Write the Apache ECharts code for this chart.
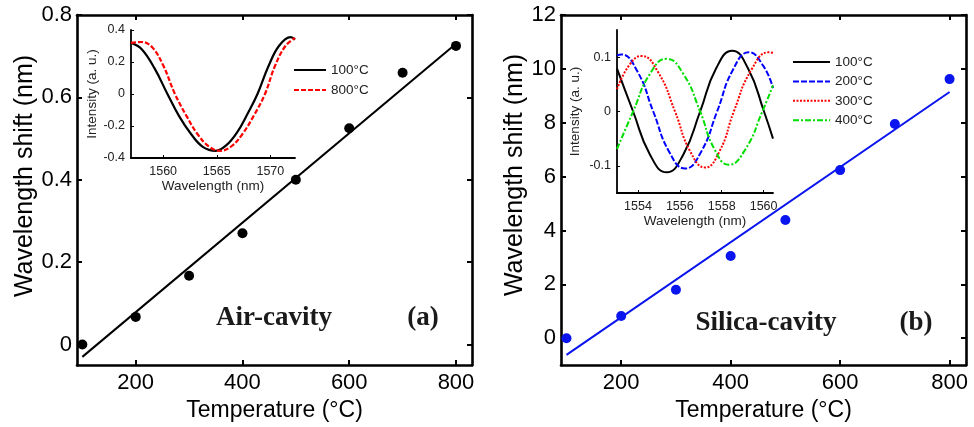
<!DOCTYPE html>
<html>
<head>
<meta charset="utf-8">
<script src="https://cdn.jsdelivr.net/npm/echarts@6/dist/echarts.min.js"></script>
<style>
  html, body { margin: 0; background: #fff; }
  #chart { width: 974px; height: 427px; }
</style>
</head>
<body>
<div id="chart"></div>
<script>
// main panels: wavelength shift vs temperature
var temps = [100, 200, 300, 400, 500, 600, 700, 800];
var shiftAir = [0, 0.067, 0.167, 0.27, 0.40, 0.525, 0.66, 0.725];
var shiftSilica = [0, 0.82, 1.80, 3.05, 4.39, 6.24, 7.95, 9.62];

// linear fit lines (end points)
var fitTemps = [100, 800];
var fitAir = [-0.03, 0.73];
var fitSilica = [-0.62, 9.14];

// tick labels
var tempTicks = [200, 400, 600, 800];
var airTicks = [0, 0.2, 0.4, 0.6, 0.8];
var silicaTicks = [0, 2, 4, 6, 8, 10, 12];
var insetATicksX = [1560, 1565, 1570];
var insetATicksY = [-0.4, -0.2, 0, 0.2, 0.4];
var insetBTicksX = [1554, 1556, 1558, 1560];
var insetBTicksY = [-0.1, 0, 0.1];

// inset (a) spectra
var wlA100 = [1557.0, 1558.0, 1559.2, 1560.4, 1561.5, 1562.6, 1563.7, 1564.9, 1565.9, 1566.9, 1567.9, 1568.8, 1569.8, 1570.8, 1571.9, 1572.3];
var intA100 = [0.32, 0.28, 0.16, 0, -0.14, -0.25, -0.33, -0.355, -0.32, -0.24, -0.12, 0, 0.17, 0.30, 0.355, 0.34];
var wlA800 = [1557.0, 1558.0, 1559.0, 1560.0, 1561.1, 1562.2, 1563.2, 1564.3, 1565.35, 1566.4, 1567.4, 1568.5, 1569.5, 1570.4, 1571.4, 1572.3];
var intA800 = [0.32, 0.325, 0.29, 0.18, 0, -0.14, -0.25, -0.33, -0.355, -0.325, -0.25, -0.13, 0, 0.17, 0.30, 0.35];

// inset (b) spectra
var wlB100 = [1553.0, 1553.77, 1554.57, 1555.37, 1556.17, 1556.97, 1557.73, 1558.5, 1559.26, 1560.02, 1560.45];
var intB100 = [0.079, 0, -0.079, -0.112, -0.079, 0, 0.079, 0.112, 0.079, 0, -0.05];
var wlB200 = [1553.0, 1553.2, 1553.97, 1554.73, 1555.49, 1556.25, 1557.02, 1557.78, 1558.54, 1559.3, 1560.0, 1560.45];
var intB200 = [0.103, 0.105, 0.074, 0, -0.074, -0.105, -0.074, 0, 0.077, 0.109, 0.083, 0.043];
var wlB300 = [1553.0, 1553.6, 1554.17, 1554.97, 1555.77, 1556.49, 1557.21, 1557.9, 1558.58, 1559.42, 1560.26, 1560.45];
var intB300 = [0.041, 0.086, 0.102, 0.072, 0, -0.073, -0.103, -0.073, 0, 0.077, 0.109, 0.108];
var wlB400 = [1553.0, 1553.77, 1554.57, 1555.37, 1556.17, 1556.97, 1557.65, 1558.34, 1559.14, 1559.94, 1560.45];
var intB400 = [-0.069, 0, 0.069, 0.097, 0.069, 0, -0.069, -0.098, -0.069, 0, 0.048];

var FONT = 'Liberation Sans, Arial, sans-serif';
var SERIF = 'Liberation Serif, Times New Roman, serif';

function zip(xs, ys) {
  return xs.map(function (x, i) { return [x, ys[i]]; });
}

// plain number, no thousands separator
function plain(v) {
  return String(+v.toFixed(4));
}

// big framed axis (all four sides drawn, ticks inside)
function mainAxis(grid, pos, min, max, ticks, showLabel, extra) {
  var ax = {
    type: 'value',
    gridIndex: grid,
    position: pos,
    min: min,
    max: max,
    splitLine: { show: false },
    axisLine: { show: true, onZero: false, lineStyle: { color: '#000', width: 2.6 } },
    axisTick: { show: true, inside: true, length: 5, customValues: ticks, lineStyle: { color: '#000', width: 2 } },
    axisLabel: {
      show: showLabel,
      customValues: ticks,
      formatter: plain,
      color: '#000',
      fontSize: 22,
      fontFamily: FONT,
      margin: (pos === 'bottom' ? 7 : 5)
    }
  };
  return Object.assign(ax, extra || {});
}

// small inset axis (left + bottom only)
function insetAxis(grid, pos, min, max, ticks, extra) {
  var ax = {
    type: 'value',
    gridIndex: grid,
    position: pos,
    min: min,
    max: max,
    splitLine: { show: false },
    axisLine: { show: true, onZero: false, lineStyle: { color: '#000', width: 1.8 } },
    axisTick: { show: true, inside: true, length: 3, customValues: ticks, lineStyle: { color: '#000', width: 1 } },
    axisLabel: {
      customValues: ticks,
      formatter: plain,
      color: '#222',
      fontSize: 12.5,
      fontFamily: FONT,
      margin: (pos === 'bottom' ? 7 : 6)
    },
    nameLocation: 'middle',
    nameTextStyle: { color: '#222', fontSize: 13.5, fontFamily: FONT }
  };
  return Object.assign(ax, extra || {});
}

var chart = echarts.init(document.getElementById('chart'));

var legendText = { color: '#222', fontSize: 13.5, fontFamily: FONT };

var option = {
  animation: false,
  backgroundColor: '#fff',
  grid: [
    { left: 77, top: 15, width: 395, height: 352 },
    { left: 561, top: 15, width: 405, height: 355 },
    { left: 131, top: 30, width: 164, height: 128 },
    { left: 617, top: 30, width: 156, height: 163 }
  ],
  xAxis: [
    mainAxis(0, 'bottom', 90, 830, tempTicks, true, {
      name: 'Temperature (°C)', nameLocation: 'middle', nameGap: 27,
      nameTextStyle: { color: '#000', fontSize: 23, fontFamily: FONT }
    }),
    mainAxis(1, 'bottom', 90, 830, tempTicks, true, {
      name: 'Temperature (°C)', nameLocation: 'middle', nameGap: 27,
      nameTextStyle: { color: '#000', fontSize: 23, fontFamily: FONT }
    }),
    insetAxis(2, 'bottom', 1557, 1572.3, insetATicksX, { name: 'Wavelength (nm)', nameGap: 21 }),
    insetAxis(3, 'bottom', 1553, 1560.45, insetBTicksX, { name: 'Wavelength (nm)', nameGap: 21 }),
    mainAxis(0, 'top', 90, 830, tempTicks, false),
    mainAxis(1, 'top', 90, 830, tempTicks, false)
  ],
  yAxis: [
    mainAxis(0, 'left', -0.05, 0.8, airTicks, true),
    mainAxis(1, 'left', -1, 12, silicaTicks, true),
    insetAxis(2, 'left', -0.4, 0.4, insetATicksY, { name: 'Intensity (a. u.)', nameGap: 30 }),
    insetAxis(3, 'left', -0.15, 0.15, insetBTicksY, { name: 'Intensity (a. u.)', nameGap: 35 }),
    mainAxis(0, 'right', -0.05, 0.8, airTicks, false),
    mainAxis(1, 'right', -1, 12, silicaTicks, false)
  ],
  legend: [
    {
      data: ['100°C', '800°C'],
      orient: 'vertical',
      left: 288,
      top: 58,
      itemWidth: 32,
      itemHeight: 14,
      itemGap: 6,
      selectedMode: false,
      itemStyle: { opacity: 0 },
      textStyle: legendText
    },
    {
      data: ['100°C ', '200°C', '300°C', '400°C'],
      orient: 'vertical',
      left: 787,
      top: 50,
      itemWidth: 37,
      itemHeight: 14,
      itemGap: 5.4,
      selectedMode: false,
      itemStyle: { opacity: 0 },
      textStyle: legendText
    }
  ],
  graphic: [
    { type: 'text', x: 25, y: 176, rotation: Math.PI / 2,
      style: { text: 'Wavelength shift (nm)', fill: '#000', fontSize: 25, fontFamily: FONT, textAlign: 'center', textVerticalAlign: 'middle' } },
    { type: 'text', x: 515, y: 175, rotation: Math.PI / 2,
      style: { text: 'Wavelength shift (nm)', fill: '#000', fontSize: 25, fontFamily: FONT, textAlign: 'center', textVerticalAlign: 'middle' } },
    { type: 'text', x: 274, y: 318,
      style: { text: 'Air-cavity', fill: '#1a1a1a', fontSize: 27, fontWeight: 'bold', fontFamily: SERIF, textAlign: 'center', textVerticalAlign: 'middle' } },
    { type: 'text', x: 423, y: 318,
      style: { text: '(a)', fill: '#1a1a1a', fontSize: 27, fontWeight: 'bold', fontFamily: SERIF, textAlign: 'center', textVerticalAlign: 'middle' } },
    { type: 'text', x: 766, y: 323,
      style: { text: 'Silica-cavity', fill: '#1a1a1a', fontSize: 27, fontWeight: 'bold', fontFamily: SERIF, textAlign: 'center', textVerticalAlign: 'middle' } },
    { type: 'text', x: 916, y: 323,
      style: { text: '(b)', fill: '#1a1a1a', fontSize: 27, fontWeight: 'bold', fontFamily: SERIF, textAlign: 'center', textVerticalAlign: 'middle' } }
  ],
  series: [
    // panel (a)
    {
      name: 'Air', type: 'scatter', xAxisIndex: 0, yAxisIndex: 0,
      data: zip(temps, shiftAir), symbolSize: 10,
      itemStyle: { color: '#000', opacity: 1 }
    },
    {
      name: 'Air fit', type: 'line', xAxisIndex: 0, yAxisIndex: 0,
      data: zip(fitTemps, fitAir), symbol: 'none',
      lineStyle: { color: '#000', width: 2 }
    },
    // panel (b)
    {
      name: 'Silica', type: 'scatter', xAxisIndex: 1, yAxisIndex: 1,
      data: zip(temps, shiftSilica), symbolSize: 10,
      itemStyle: { color: '#0a14ee', opacity: 1 }
    },
    {
      name: 'Silica fit', type: 'line', xAxisIndex: 1, yAxisIndex: 1,
      data: zip(fitTemps, fitSilica), symbol: 'none',
      lineStyle: { color: '#0a14ee', width: 2 }
    },
    // inset (a)
    {
      name: '100°C', type: 'line', xAxisIndex: 2, yAxisIndex: 2,
      data: zip(wlA100, intA100), symbol: 'none', smooth: 0.4,
      itemStyle: { color: '#000' },
      lineStyle: { color: '#000', width: 2.2 }
    },
    {
      name: '800°C', type: 'line', xAxisIndex: 2, yAxisIndex: 2,
      data: zip(wlA800, intA800), symbol: 'none', smooth: 0.4,
      itemStyle: { color: '#f00' },
      lineStyle: { color: '#f00', width: 2.2, type: [5, 2] }
    },
    // inset (b)
    {
      name: '100°C ', type: 'line', xAxisIndex: 3, yAxisIndex: 3,
      data: zip(wlB100, intB100), symbol: 'none', smooth: true,
      itemStyle: { color: '#000' },
      lineStyle: { color: '#000', width: 2 }
    },
    {
      name: '200°C', type: 'line', xAxisIndex: 3, yAxisIndex: 3,
      data: zip(wlB200, intB200), symbol: 'none', smooth: true,
      itemStyle: { color: '#0000ff' },
      lineStyle: { color: '#0000ff', width: 2, type: [6, 2] }
    },
    {
      name: '300°C', type: 'line', xAxisIndex: 3, yAxisIndex: 3,
      data: zip(wlB300, intB300), symbol: 'none', smooth: true,
      itemStyle: { color: '#ff0000' },
      lineStyle: { color: '#ff0000', width: 2, type: [2, 1.5] }
    },
    {
      name: '400°C', type: 'line', xAxisIndex: 3, yAxisIndex: 3,
      data: zip(wlB400, intB400), symbol: 'none', smooth: true,
      itemStyle: { color: '#00dd00' },
      lineStyle: { color: '#00dd00', width: 2, type: [6, 2, 2, 2] }
    }
  ]
};

chart.setOption(option);
</script>
</body>
</html>
